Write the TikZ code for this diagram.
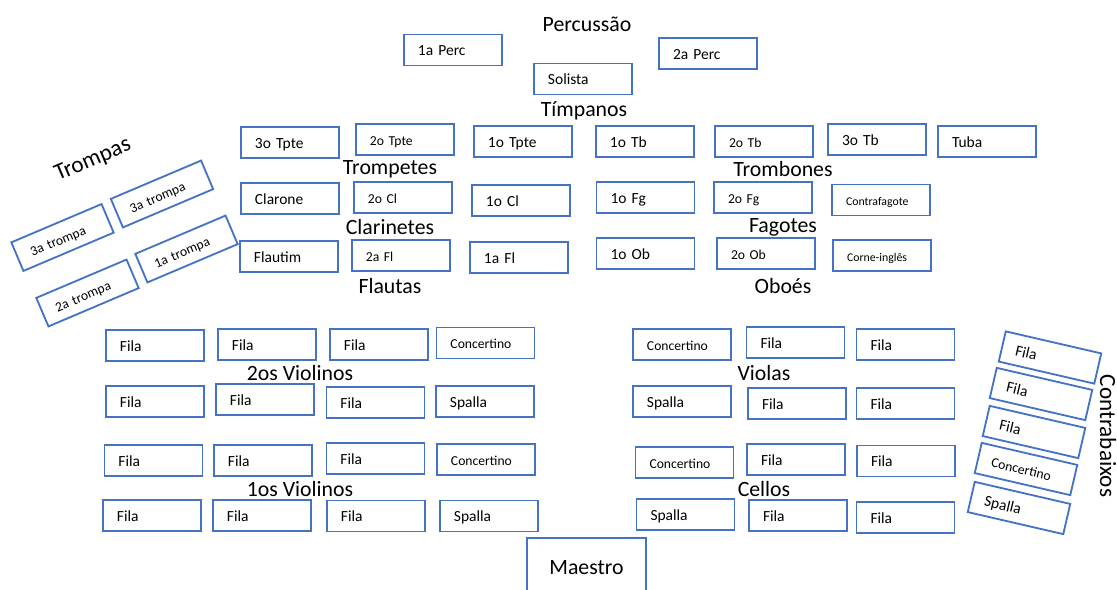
\documentclass[tikz,border=0pt]{standalone}
\usepackage{fontspec}
\setmainfont{Carlito}
\usepackage{tikz}
\usetikzlibrary{positioning}

\definecolor{seatblue}{RGB}{68,114,196}

\begin{document}
\begin{tikzpicture}[
  x=0.025cm, y=-0.025cm,
  seat/.style={draw=seatblue, line width=1.3pt, minimum width=2.45cm, minimum height=0.775cm, text width=1.75cm, text height=0.85em, text depth=0pt, inner xsep=0.35cm, inner ysep=0pt, align=left, font=\fontsize{11}{13}\selectfont},
  smallseat/.style={seat, font=\fontsize{9.7}{11}\selectfont},
  tinyseat/.style={seat, font=\fontsize{8.4}{10}\selectfont},
  grouplabel/.style={inner sep=0pt, font=\fontsize{15.5}{18}\selectfont},
  biglabel/.style={inner sep=0pt, font=\fontsize{16.5}{20}\selectfont}
]
\clip (0,0) rectangle (1117,590);

% percussao
\node[grouplabel] (lperc) at (587,24) {Percussão};
\node[seat] (perc1) at (453,50) {1a Perc};
\node[seat] (perc2) at (708,53.5) {2a Perc};
\node[seat] (solista) at (583,79) {Solista};
\node[grouplabel] (ltimp) at (584,111) {Tímpanos};

% metais
\node[seat] (tpte3) at (290,142.5) {3o Tpte};
\node[smallseat] (tpte2) at (405,139.5) {2o Tpte};
\node[seat] (tpte1) at (523,141.5) {1o Tpte};
\node[seat] (tb1) at (645,141.5) {1o Tb};
\node[smallseat] (tb2) at (764,141.5) {2o Tb};
\node[seat] (tb3) at (877,139.5) {3o Tb};
\node[seat] (tuba) at (987,141.5) {Tuba};
\node[grouplabel] (ltpte) at (390,169) {Trompetes};
\node[grouplabel] (ltb) at (783,169) {Trombones};

% madeiras
\node[seat] (clarone) at (290,198.5) {Clarone};
\node[smallseat] (cl2) at (403,197.5) {2o Cl};
\node[seat] (cl1) at (521,200.5) {1o Cl};
\node[seat] (fg1) at (645.5,197.5) {1o Fg};
\node[smallseat] (fg2) at (763,197.5) {2o Fg};
\node[tinyseat] (cfg) at (881,200) {Contrafagote};
\node[grouplabel] (lcl) at (390,227) {Clarinetes};
\node[grouplabel] (lfg) at (783,227) {Fagotes};

\node[seat] (flautim) at (289,256.5) {Flautim};
\node[smallseat] (fl2) at (401,255.5) {2a Fl};
\node[seat] (fl1) at (519,257.5) {1a Fl};
\node[seat] (ob1) at (645.5,253.5) {1o Ob};
\node[smallseat] (ob2) at (766,253.5) {2o Ob};
\node[tinyseat] (ci) at (882,255.5) {Corne-inglês};
\node[grouplabel] (lfl) at (390,286) {Flautas};
\node[grouplabel] (lob) at (783,286) {Oboés};

% trompas
\node[biglabel, rotate=23] (ltr) at (93,160) {Trompas};
\node[smallseat, rotate=23] (tr3b) at (162,194) {3a trompa};
\node[smallseat, rotate=23] (tr3a) at (62.5,237.5) {3a trompa};
\node[smallseat, rotate=23] (tr1) at (186.5,249) {1a trompa};
\node[smallseat, rotate=23] (tr2) at (87.5,293) {2a trompa};

% 2os violinos
\node[seat] (vb1) at (155,345.5) {Fila};
\node[seat] (vb2) at (267,344.5) {Fila};
\node[seat] (vb3) at (379,344.5) {Fila};
\node[smallseat] (vb4) at (485.5,343) {Concertino};
\node[grouplabel] (lvb) at (300,373) {2os Violinos};
\node[seat] (vb5) at (155,401.5) {Fila};
\node[seat] (vb6) at (265,399.5) {Fila};
\node[seat] (vb7) at (375.5,402.5) {Fila};
\node[seat] (vb8) at (485,401.5) {Spalla};

% 1os violinos
\node[seat] (va1) at (153.5,460.5) {Fila};
\node[seat] (va2) at (263,460.5) {Fila};
\node[seat] (va3) at (375.5,458.5) {Fila};
\node[smallseat] (va4) at (486,459.5) {Concertino};
\node[grouplabel] (lva) at (300,489) {1os Violinos};
\node[seat] (va5) at (152,515.5) {Fila};
\node[seat] (va6) at (262,515.5) {Fila};
\node[seat] (va7) at (376,516) {Fila};
\node[seat] (va8) at (489,516) {Spalla};

% violas
\node[smallseat] (vla1) at (682,344.5) {Concertino};
\node[seat] (vla2) at (795.5,342.5) {Fila};
\node[seat] (vla3) at (905.5,344.5) {Fila};
\node[grouplabel] (lvla) at (764,373) {Violas};
\node[seat] (vla4) at (682,401.5) {Spalla};
\node[seat] (vla5) at (797,403.5) {Fila};
\node[seat] (vla6) at (905.5,403.5) {Fila};

% cellos
\node[smallseat] (vc1) at (684.5,462.5) {Concertino};
\node[seat] (vc2) at (796,459.5) {Fila};
\node[seat] (vc3) at (906,461) {Fila};
\node[grouplabel] (lvc) at (764,489) {Cellos};
\node[seat] (vc4) at (685.5,514.5) {Spalla};
\node[seat] (vc5) at (798,515.5) {Fila};
\node[seat] (vc6) at (905.5,517.5) {Fila};

% contrabaixos
\node[seat, rotate=-13] (cb1) at (1050,357.5) {Fila};
\node[seat, rotate=-13] (cb2) at (1041,394) {Fila};
\node[seat, rotate=-13] (cb3) at (1034,432) {Fila};
\node[smallseat, rotate=-13] (cb4) at (1026,469) {Concertino};
\node[seat, rotate=-13] (cb5) at (1019,508) {Spalla};
\node[biglabel, rotate=-90] (lcb) at (1108,436) {Contrabaixos};

% regente
\node[draw=seatblue, line width=1.3pt, minimum width=2.975cm, minimum height=1.5cm, font=\fontsize{15.5}{18}\selectfont] (maestro) at (586.5,568) {Maestro};
\end{tikzpicture}
\end{document}
